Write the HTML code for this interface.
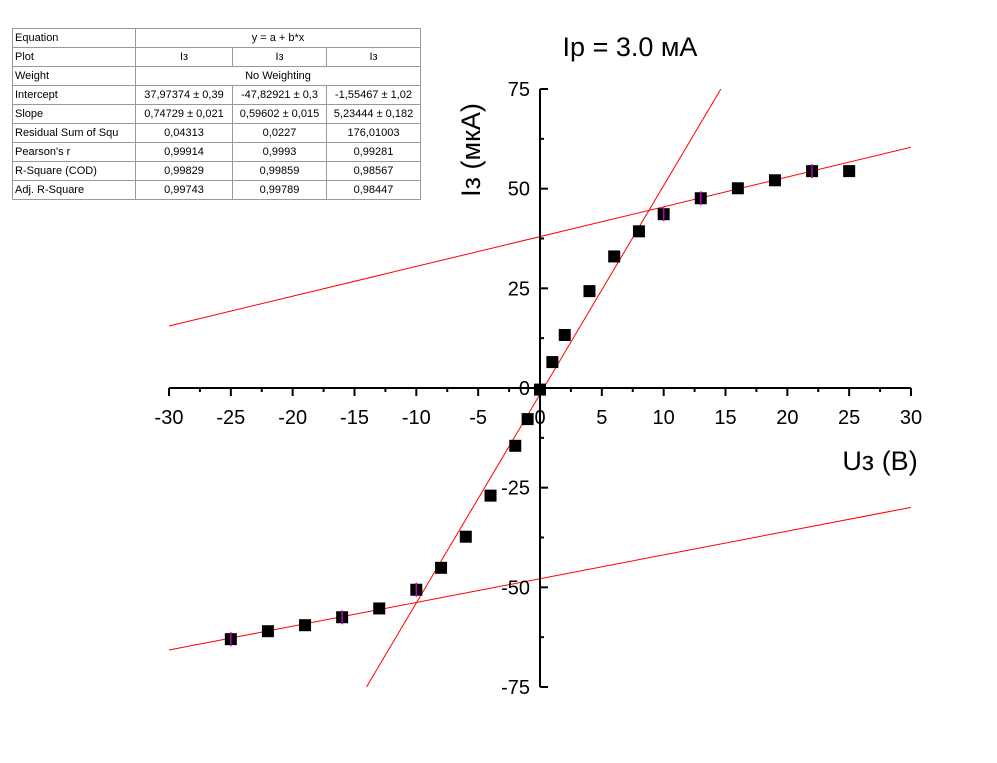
<!DOCTYPE html>
<html><head><meta charset="utf-8"><style>
body{margin:0;background:#fff;width:997px;height:763px;overflow:hidden;font-family:"Liberation Sans",sans-serif}
table{position:absolute;left:12px;top:28px;border-collapse:collapse;font-size:11px;font-family:"Liberation Sans",sans-serif}
td{border:1px solid #999;height:18px;padding:0 2px;white-space:nowrap;line-height:18px;text-align:center}
td:first-child{text-align:left}
table{border:1px solid #000}
</style></head><body>
<table>
<colgroup><col style="width:123px"><col style="width:97px"><col style="width:94px"><col style="width:94px"></colgroup>
<tr><td>Equation</td><td colspan="3">y = a + b*x</td></tr>
<tr><td>Plot</td><td>Iз</td><td>Iз</td><td>Iз</td></tr>
<tr><td>Weight</td><td colspan="3">No Weighting</td></tr>
<tr><td>Intercept</td><td>37,97374 ± 0,39</td><td>-47,82921 ± 0,3</td><td>-1,55467 ± 1,02</td></tr>
<tr><td>Slope</td><td>0,74729 ± 0,021</td><td>0,59602 ± 0,015</td><td>5,23444 ± 0,182</td></tr>
<tr><td>Residual Sum of Squ</td><td>0,04313</td><td>0,0227</td><td>176,01003</td></tr>
<tr><td>Pearson's r</td><td>0,99914</td><td>0,9993</td><td>0,99281</td></tr>
<tr><td>R-Square (COD)</td><td>0,99829</td><td>0,99859</td><td>0,98567</td></tr>
<tr><td>Adj. R-Square</td><td>0,99743</td><td>0,99789</td><td>0,98447</td></tr>
</table>
<svg id="chart" width="997" height="763" style="position:absolute;left:0;top:0"></svg>
<script>
const xVals=[-25,-22,-19,-16,-13,-10,-8,-6,-4,-2,-1,0,1,2,4,6,8,10,13,16,19,22,25];
const yVals=[-63,-61,-59.5,-57.5,-55.3,-50.6,-45.1,-37.3,-27,-14.5,-7.8,-0.4,6.5,13.3,24.3,33,39.3,43.6,47.6,50.1,52.1,54.4,54.4];
const errX=[-25,-16,-10,10,13,22];
const fitIntercepts=[37.97374,-47.82921,-1.55467];
const fitSlopes=[0.74729,0.59602,5.23444];
const xTicks=[-30,-25,-20,-15,-10,-5,0,5,10,15,20,25,30];
const yTicks=[-75,-50,-25,0,25,50,75];
const X=v=>540+v*(742/60);
const Y=v=>388-v*(299/75);
const svg=document.getElementById('chart');
const NS='http://www.w3.org/2000/svg';
function mk(t,a,p){const e=document.createElementNS(NS,t);for(const k in a)e.setAttribute(k,a[k]);(p||svg).appendChild(e);return e;}
// fit lines
fitIntercepts.forEach((a,i)=>{
 const b=fitSlopes[i];
 let x1=-30,x2=30;
 if(a+b*x1<-75)x1=(-75-a)/b;
 if(a+b*x2>75)x2=(75-a)/b;
 const l=mk('line',{x1:X(x1),y1:Y(a+b*x1),x2:X(x2),y2:Y(a+b*x2),stroke:'#ff0000','stroke-width':1});
 
 
});
// axes
const ax=mk('line',{x1:X(-30),y1:Y(0),x2:X(30),y2:Y(0),stroke:'#000','stroke-width':2});


const ay=mk('line',{x1:X(0),y1:Y(-75),x2:X(0),y2:Y(75),stroke:'#000','stroke-width':2});


xTicks.forEach((t,i)=>{
 mk('line',{x1:X(t),y1:Y(0),x2:X(t),y2:Y(0)+8,stroke:'#000','stroke-width':2});
 if(i<xTicks.length-1)mk('line',{x1:X(t+2.5),y1:Y(0),x2:X(t+2.5),y2:Y(0)+4,stroke:'#000','stroke-width':2});
 const tx=mk('text',{x:X(t),y:Y(0)+36,'text-anchor':'middle','font-size':20,'font-family':'Liberation Sans, sans-serif'});
 tx.textContent=t;
 
 
});
yTicks.forEach((t,i)=>{
 mk('line',{x1:X(0),y1:Y(t),x2:X(0)+8,y2:Y(t),stroke:'#000','stroke-width':2});
 if(i<yTicks.length-1)mk('line',{x1:X(0),y1:Y(t+12.5),x2:X(0)+4,y2:Y(t+12.5),stroke:'#000','stroke-width':2});
 const tx=mk('text',{x:X(0)-10,y:Y(t)+7,'text-anchor':'end','font-size':20,'font-family':'Liberation Sans, sans-serif'});
 tx.textContent=t;
 
 
});
// points
xVals.forEach((x,i)=>{
 const r=mk('rect',{x:X(x)-6,y:Y(yVals[i])-6,width:12,height:12,fill:'#000'});
 
 
 if(errX.includes(x)){
  const e=mk('line',{x1:X(x),y1:Y(yVals[i])-7,x2:X(x),y2:Y(yVals[i])+7,stroke:'#c000c0','stroke-width':1.5});
  
  
 }
});
const t1=mk('text',{x:630,y:56,'text-anchor':'middle','font-size':27,'font-family':'Liberation Sans, sans-serif'});
t1.textContent='Ip = 3.0 мА';


const t2=mk('text',{x:880,y:470,'text-anchor':'middle','font-size':27,'font-family':'Liberation Sans, sans-serif'});
t2.textContent='Uз (В)';


const t3=mk('text',{x:0,y:0,'text-anchor':'middle','font-size':27,'font-family':'Liberation Sans, sans-serif',transform:'translate(480,150) rotate(-90)'});
t3.textContent='Iз (мкА)';


</script>
</body></html>
